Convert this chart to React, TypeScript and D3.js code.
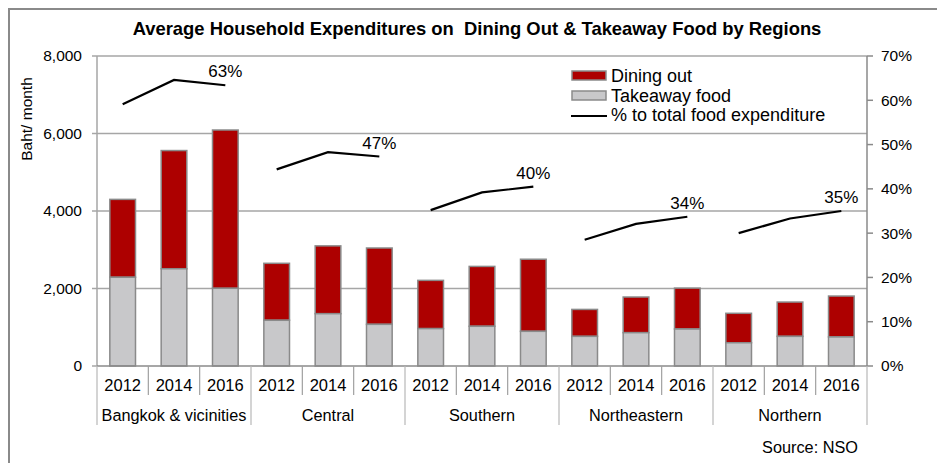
import React from "react";
import * as d3 from "d3";

// chart data
const regions = ["Bangkok & vicinities", "Central", "Southern", "Northeastern", "Northern"];
const years = ["2012", "2014", "2016"];
const takeaway = [2290, 2510, 2005, 1180, 1350, 1075, 965, 1025, 895, 765, 860, 955, 600, 765, 750];
const diningOut = [2010, 3050, 4085, 1470, 1750, 1970, 1245, 1545, 1860, 695, 920, 1055, 760, 885, 1055];
const shareOfFood = [59.1, 64.6, 63.4, 44.4, 48.3, 47.3, 35.2, 39.2, 40.5, 28.5, 32.1, 33.7, 30.0, 33.3, 35.0];
const shareLabels = ["63%", "47%", "40%", "34%", "35%"];
const leftTicks = [0, 2000, 4000, 6000, 8000];
const rightTicks = [0, 10, 20, 30, 40, 50, 60, 70];

const FONT = "'Liberation Sans', Arial, sans-serif";
const RED = "#ad0000";
const GREY = "#c8c8ca";
const EDGE = "#8a8a8a";
const GRID = "#a6a6a6";

const W = 937;
const H = 463;
const margin = { left: 97, right: 867, top: 56, bottom: 366 };

export default function App() {
  const keys = regions.flatMap((r) => years.map((y) => `${r}|${y}`));

  const x = d3.scaleBand().domain(keys).range([margin.left, margin.right]).paddingInner(0).paddingOuter(0);
  const y = d3.scaleLinear().domain([0, 8000]).range([margin.bottom, margin.top]);
  const yr = d3.scaleLinear().domain([0, 70]).range([margin.bottom, margin.top]);

  const bw = x.bandwidth() * 0.5;
  const cx = (i: number) => (x(keys[i]) as number) + x.bandwidth() / 2;

  return (
    <svg
      width={W}
      height={H}
      style={{ position: "absolute", left: 0, top: 0, display: "block", background: "#fff" }}
      fontFamily={FONT}
    >
      {/* frame */}
      <rect x={9} y={9} width={940} height={470} fill="none" stroke={EDGE} strokeWidth={2} />

      {/* title */}
      <text x={477} y={35} textAnchor="middle" fontSize={18.4} fontWeight="bold" fill="#000" style={{ whiteSpace: "pre" }}>
        Average Household Expenditures on  Dining Out &amp; Takeaway Food by Regions
      </text>

      {/* gridlines */}
      {leftTicks.slice(1).map((t) => (
        <line key={t} x1={margin.left} x2={margin.right} y1={y(t)} y2={y(t)} stroke={GRID} strokeWidth={1.5} />
      ))}

      {/* left axis */}
      <line x1={margin.left} x2={margin.left} y1={margin.top} y2={margin.bottom} stroke={GRID} strokeWidth={1.5} />
      {leftTicks.map((t) => (
        <g key={t}>
          <line x1={margin.left - 5} x2={margin.left} y1={y(t)} y2={y(t)} stroke={GRID} strokeWidth={1.5} />
          <text x={82} y={y(t)} dy="0.35em" textAnchor="end" fontSize={15.5} fill="#000">
            {d3.format(",")(t)}
          </text>
        </g>
      ))}
      <text
        transform={`translate(27,${(margin.top + margin.bottom) / 2 - 92}) rotate(-90)`}
        textAnchor="middle"
        dy="0.35em"
        fontSize={15.5}
        fill="#000"
      >
        Baht/ month
      </text>

      {/* right axis */}
      <line x1={margin.right} x2={margin.right} y1={margin.top} y2={margin.bottom} stroke={EDGE} strokeWidth={1.5} />
      {rightTicks.map((t) => (
        <g key={t}>
          <line x1={margin.right} x2={margin.right + 6} y1={yr(t)} y2={yr(t)} stroke={EDGE} strokeWidth={1.5} />
          <text x={881} y={yr(t)} dy="0.35em" textAnchor="start" fontSize={15.5} fill="#000">
            {t}%
          </text>
        </g>
      ))}

      {/* bars */}
      {keys.map((k, i) => {
        const bx = cx(i) - bw / 2;
        const total = takeaway[i] + diningOut[i];
        return (
          <g key={k}>
            <rect
              x={bx}
              y={y(total)}
              width={bw}
              height={y(takeaway[i]) - y(total)}
              fill={RED}
              stroke={EDGE}
              strokeWidth={1.5}
            />
            <rect
              x={bx}
              y={y(takeaway[i])}
              width={bw}
              height={y(0) - y(takeaway[i])}
              fill={GREY}
              stroke={EDGE}
              strokeWidth={1.5}
            />
          </g>
        );
      })}

      {/* share lines, one per region */}
      {regions.map((r, ri) => {
        const pts = years.map((_, yi) => [cx(ri * 3 + yi), yr(shareOfFood[ri * 3 + yi])] as [number, number]);
        const path = d3.line()(pts) as string;
        const last = pts[pts.length - 1];
        return (
          <g key={r}>
            <path d={path} fill="none" stroke="#000" strokeWidth={2.2} />
            <text x={last[0]} y={last[1] - 8} textAnchor="middle" fontSize={17} fill="#000">
              {shareLabels[ri]}
            </text>
          </g>
        );
      })}

      {/* bottom axis */}
      <line x1={margin.left} x2={margin.right} y1={margin.bottom} y2={margin.bottom} stroke={EDGE} strokeWidth={1.5} />
      {keys.map((k, i) => {
        const left = x(k) as number;
        const groupStart = i % 3 === 0;
        return (
          <g key={k}>
            <line
              x1={left}
              x2={left}
              y1={margin.bottom}
              y2={groupStart ? 425 : 395}
              stroke={groupStart ? "#b8b8b8" : "#a0a0a0"}
              strokeWidth={1.2}
            />
            <text x={cx(i)} y={391} textAnchor="middle" fontSize={16.5} fill="#000">
              {years[i % 3]}
            </text>
          </g>
        );
      })}
      <line x1={margin.right} x2={margin.right} y1={margin.bottom} y2={425} stroke="#b8b8b8" strokeWidth={1.2} />
      {regions.map((r, ri) => (
        <text key={r} x={cx(ri * 3 + 1)} y={421} textAnchor="middle" fontSize={16.3} fill="#000">
          {r}
        </text>
      ))}

      {/* legend */}
      <g fontSize={18}>
        <rect x={572} y={71} width={34} height={9} fill={RED} stroke={EDGE} strokeWidth={1.5} />
        <text x={611} y={82}>Dining out</text>
        <rect x={572} y={91} width={34} height={9} fill={GREY} stroke={EDGE} strokeWidth={1.5} />
        <text x={611} y={102}>Takeaway food</text>
        <line x1={571} x2={607} y1={116} y2={116} stroke="#000" strokeWidth={2.2} />
        <text x={611} y={121}>% to total food expenditure</text>
      </g>

      {/* source */}
      <text x={858} y={453} textAnchor="end" fontSize={16.3} fill="#000">
        Source: NSO
      </text>
    </svg>
  );
}
